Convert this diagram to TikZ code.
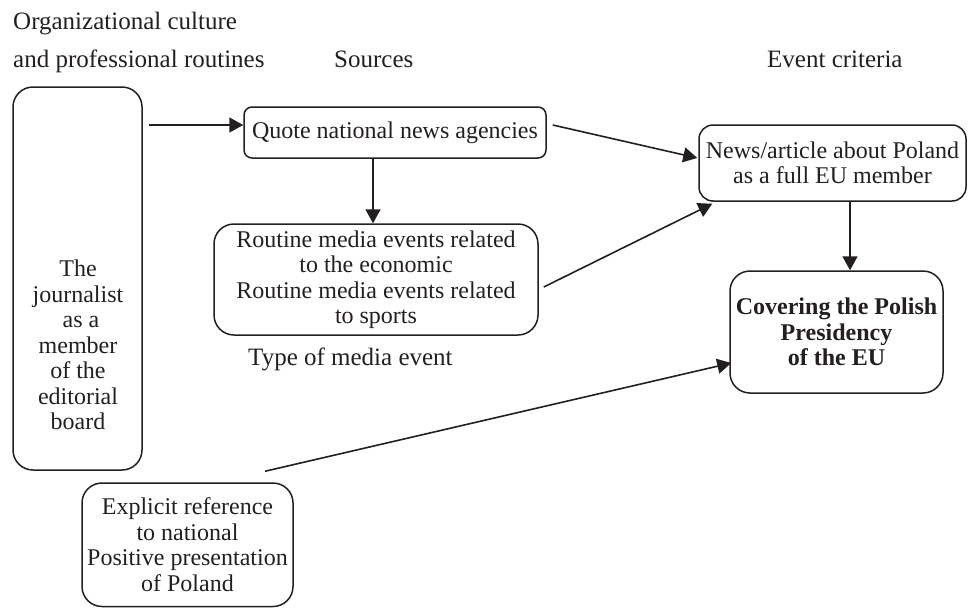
\documentclass[tikz,border=0pt]{standalone}
\usepackage{fontspec}
\setmainfont{Liberation Serif}
\usetikzlibrary{arrows.meta,calc}
\definecolor{ink}{HTML}{231F20}
\tikzset{
  box/.style={draw=ink, line width=1.5pt, inner sep=0pt, align=center, text=ink,
    font=\fontsize{24}{25.5}\selectfont},
  lbl/.style={inner sep=0pt, text=ink, font=\fontsize{24}{25.5}\selectfont},
  head/.style={inner sep=0pt, text=ink, font=\fontsize{25}{26}\selectfont, anchor=base west},
  arr/.style={draw=ink, line width=1.6pt, -{Triangle[length=14pt,width=15pt]}},
}
\begin{document}
\begin{tikzpicture}[x=1pt,y=-1pt]
\useasboundingbox (0,0) rectangle (968,608);
% headers
\node[head] (h1) at (13,29) {Organizational culture};
\node[head] (h2) at (13,67) {and professional routines};
\node[head] (h3) at (334,67) {Sources};
\node[head] (h4) at (767,67) {Event criteria};
\node[head] (h5) at (248,365) {Type of media event};
% boxes
\node[box, rounded corners=20pt, minimum width=129pt, minimum height=383pt] (jour) at (77.5,278.5) {};
\node[lbl, align=center] (jourtxt) at (78,345) {The\\journalist\\\ as a\\member\\of the\\editorial\\board};
\node[box, rounded corners=8pt, minimum width=302pt, minimum height=51pt] (quote) at (395,132.5) {Quote national news agencies};
\node[box, rounded corners=20pt, minimum width=324pt, minimum height=111pt] (routine) at (376,279.5)
  {Routine media events related\\to the economic\\Routine media events related\\to sports};
\node[box, rounded corners=14pt, minimum width=267pt, minimum height=76pt] (news) at (832.5,163)
  {News/article about Poland\\as a full EU member};
\node[box, rounded corners=20pt, minimum width=213pt, minimum height=122pt, font=\fontsize{24}{25.5}\selectfont\bfseries] (cov) at (836.5,332)
  {Covering the Polish\\Presidency\\of the EU};
\node[box, rounded corners=20pt, minimum width=211pt, minimum height=123.5pt] (expl) at (187.5,544.75)
  {Explicit reference\\to national\\Positive presentation\\of Poland};
% connectors
\draw[arr] ($(jour.east |- quote.west)+(6,-7.5)$) -- ($(quote.west)+(0,-7.5)$);
\draw[arr] ($(quote.south)+(-22,0)$) -- ($(routine.north)+(-3,0)$);
\draw[arr] ($(quote.east)+(6,-7.5)$) -- ($(news.west)+(-1,-5)$);
\draw[arr] ($(routine.east)+(5,7.5)$) -- ($(news.south west)+(14,2)$);
\draw[arr] ($(news.south)+(17.5,0)$) -- ($(cov.north)+(13.5,0)$);
\draw[arr] ($(expl.north)+(77.5,-11)$) -- ($(cov.west)+(2,31)$);
\end{tikzpicture}
\end{document}
